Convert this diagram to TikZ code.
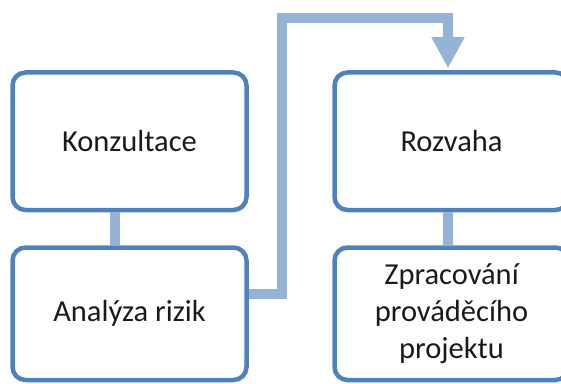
\documentclass[tikz,border=0pt]{standalone}
\usepackage{fontspec}
\setmainfont{Carlito}
\usetikzlibrary{arrows.meta}
\definecolor{boxblue}{HTML}{4F81BD}
\definecolor{linkblue}{HTML}{95B3D7}
\definecolor{ink}{HTML}{1A1A1A}
\tikzset{
  stepbox/.style={draw=boxblue, line width=4.5pt, rounded corners=13pt,
    fill=white, text=ink, align=center, inner sep=0pt,
    font=\fontsize{30.5}{36.6}\selectfont},
  link/.style={draw=linkblue, line width=10pt, line join=miter},
}
\begin{document}
\begin{tikzpicture}[x=1pt,y=1pt]
  \useasboundingbox (0,0) rectangle (561,383);

  % process steps
  \node[stepbox, minimum width=234pt, minimum height=137.5pt] (konz) at (129.5,241.75) {Konzultace};
  \node[stepbox, minimum width=234pt, minimum height=132.5pt] (anal) at (129.5,69.25) {Analýza rizik};
  \node[stepbox, minimum width=234pt, minimum height=137.5pt] (roz)  at (451.5,241.75) {Rozvaha};
  \node[stepbox, minimum width=234pt, minimum height=132.5pt] (zpr)  at (451.5,69.25) {Zpracování\\prováděcího\\projektu};

  % guide points for the connectors
  \coordinate (cL) at (115,0);
  \coordinate (cR) at (448,0);
  \coordinate (jog) at (282,89);
  \coordinate (over) at (448,365);

  % links within each column
  \draw[link] (konz.south -| cL) -- (anal.north -| cL);
  \draw[link] (roz.south -| cR) -- (zpr.north -| cR);

  % link from the left column over to the right one
  \draw[link, shorten >=2pt, -{Triangle[width=31pt,length=31pt]}]
    (anal.east |- jog) -- (jog) |- (over) -- (roz.north -| over);
\end{tikzpicture}
\end{document}
